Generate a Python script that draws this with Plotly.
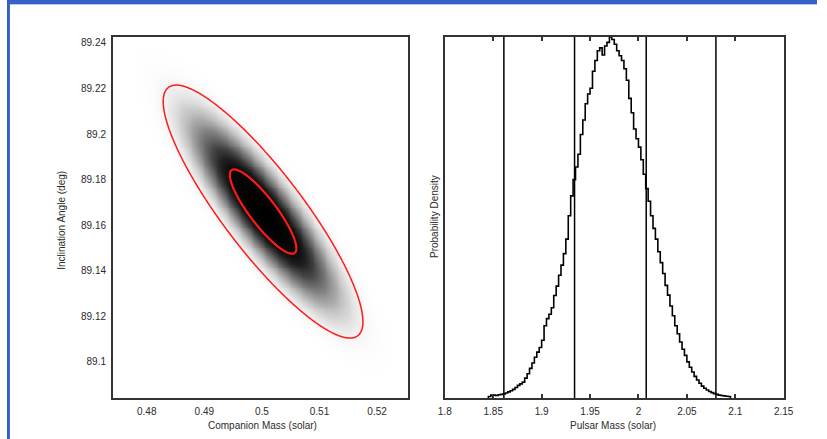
import numpy as np
import plotly.graph_objects as go

# ---- Joint posterior: companion mass vs. inclination ----
comp_mass_mean = 0.5002        # solar masses
incl_mean = 89.166             # degrees
comp_mass_sigma = 0.00578
incl_sigma = 0.0185
mass_incl_corr = -0.87
contour_sigmas = [1.0, 3.0]    # drawn confidence ellipses (in sigma)

comp_tick_vals = [0.48, 0.49, 0.50, 0.51, 0.52]
comp_tick_text = ["0.48", "0.49", "0.5", "0.51", "0.52"]
incl_tick_vals = [89.10, 89.12, 89.14, 89.16, 89.18, 89.20, 89.22, 89.24]
incl_tick_text = ["89.1", "89.12", "89.14", "89.16", "89.18", "89.2", "89.22", "89.24"]

# ---- Pulsar mass posterior histogram ----
hist_start = 1.845
hist_width = 0.0025
pulsar_density = [
    0.04, 0.08, 0.08, 0.07, 0.09, 0.10, 0.11, 0.14, 0.17, 0.20,
    0.24, 0.29, 0.35, 0.39, 0.44, 0.55, 0.67, 0.82, 0.97, 1.13,
    1.27, 1.40, 1.60, 2.00, 2.20, 2.32, 2.50, 2.84, 3.10, 3.40,
    3.68, 4.00, 4.40, 5.05, 5.60, 6.05, 6.40, 6.75, 7.30, 7.70,
    8.15, 8.42, 8.58, 9.05, 9.35, 9.62, 9.70, 9.50, 9.75, 9.85,
    10.00, 9.93, 9.80, 9.62, 9.48, 9.35, 9.12, 8.80, 8.30, 7.90,
    7.45, 7.18, 6.95, 6.60, 6.20, 5.80, 5.45, 5.05, 4.70, 4.40,
    4.05, 3.75, 3.45, 3.12, 2.85, 2.55, 2.28, 2.00, 1.78, 1.55,
    1.35, 1.18, 1.00, 0.85, 0.72, 0.60, 0.50, 0.41, 0.33, 0.27,
    0.22, 0.18, 0.15, 0.12, 0.10, 0.08, 0.07, 0.06, 0.05, 0.04,
]
interval_bounds = [1.861, 1.934, 2.008, 2.080]   # 95% and 68% limits

pulsar_tick_vals = [1.80, 1.85, 1.90, 1.95, 2.00, 2.05, 2.10, 2.15]
pulsar_tick_text = ["1.8", "1.85", "1.9", "1.95", "2", "2.05", "2.1", "2.15"]

W, H = 827, 439
FONT = "Liberation Sans, Arial, sans-serif"
TXT = "#2b2b2b"
FRAME = "#333333"

# density grid for the joint posterior
x_range = [0.4741, 0.5253]
y_range = [89.0842, 89.2426]
gx = np.linspace(x_range[0], x_range[1], 320)
gy = np.linspace(y_range[0], y_range[1], 380)
X, Y = np.meshgrid(gx, gy)
u = (X - comp_mass_mean) / comp_mass_sigma
v = (Y - incl_mean) / incl_sigma
q = (u * u - 2 * mass_incl_corr * u * v + v * v) / (1 - mass_incl_corr ** 2)
density = np.exp(-0.5 * q)

grey_scale = [
    [0.0, "rgb(255,255,255)"],
    [0.006, "rgb(250,250,250)"],
    [0.015, "rgb(238,238,238)"],
    [0.04, "rgb(212,212,212)"],
    [0.09, "rgb(172,172,172)"],
    [0.16, "rgb(130,130,130)"],
    [0.30, "rgb(72,72,72)"],
    [0.45, "rgb(32,32,32)"],
    [0.60, "rgb(10,10,10)"],
    [1.0, "rgb(0,0,0)"],
]

fig = go.Figure()
fig.add_trace(go.Heatmap(
    x=gx, y=gy, z=density, colorscale=grey_scale, zmin=0, zmax=1,
    zsmooth="best", showscale=False, hoverinfo="skip",
    xaxis="x", yaxis="y",
))
for k, lw in zip(contour_sigmas, [2.2, 1.5]):
    level = float(np.exp(-0.5 * k * k))
    fig.add_trace(go.Contour(
        x=gx, y=gy, z=density, showscale=False, hoverinfo="skip",
        contours=dict(coloring="none", start=level, end=level, size=1),
        line=dict(color="#ff1a1a", width=lw),
        xaxis="x", yaxis="y",
    ))

# step histogram of the pulsar mass
edges = [hist_start + hist_width * i for i in range(len(pulsar_density) + 1)]
step_x = [edges[0]] + edges[:-1] + [edges[-1]]
step_y = [0.0] + pulsar_density + [0.0]
fig.add_trace(go.Scatter(
    x=step_x, y=step_y, mode="lines", line=dict(color="black", width=1.6, shape="hv"),
    hoverinfo="skip", xaxis="x2", yaxis="y2", showlegend=False,
))

shapes = []
for b in interval_bounds:
    shapes.append(dict(type="line", xref="x2", yref="y2 domain", x0=b, x1=b, y0=0, y1=1,
                       line=dict(color="black", width=1.5)))
# blue page border along the top and left edge
shapes.append(dict(type="rect", xref="paper", yref="paper", x0=0, x1=1, y0=1 - 4 / H, y1=1,
                   fillcolor="#3760c8", line_width=0, layer="above"))
shapes.append(dict(type="rect", xref="paper", yref="paper", x0=0, x1=1, y0=1 - 5 / H, y1=1 - 4 / H,
                   fillcolor="#b9c7ea", line_width=0, layer="above"))
shapes.append(dict(type="rect", xref="paper", yref="paper", x0=0, x1=3 / W, y0=0, y1=1,
                   fillcolor="#3760c8", line_width=0, layer="above"))

y_dom = [1 - 398 / H, 1 - 37 / H]
axis_common = dict(showline=True, linecolor=FRAME, linewidth=1.5, showgrid=False, zeroline=False,
                   tickfont=dict(family=FONT, size=10, color=TXT))

fig.update_layout(
    width=W, height=H, margin=dict(l=0, r=0, t=0, b=0),
    paper_bgcolor="white", plot_bgcolor="white", showlegend=False,
    xaxis=dict(domain=[108 / W, 409 / W], range=x_range, tickvals=comp_tick_vals,
               ticktext=comp_tick_text, ticks="", mirror=True, anchor="y",
               ticklabelstandoff=3, **axis_common),
    yaxis=dict(domain=y_dom, range=y_range, tickvals=incl_tick_vals, ticktext=incl_tick_text,
               ticks="", mirror=True, anchor="x", ticklabelstandoff=3, **axis_common),
    xaxis2=dict(domain=[447 / W, 793 / W], range=[1.8, 2.15], tickvals=pulsar_tick_vals,
                ticktext=pulsar_tick_text, ticks="inside", ticklen=4, tickwidth=1.5,
                tickcolor=FRAME, mirror="ticks", anchor="y2", ticklabelstandoff=3, **axis_common),
    yaxis2=dict(domain=y_dom, range=[0, max(pulsar_density)], showticklabels=False, ticks="",
                mirror=True, anchor="x2", **axis_common),
    shapes=shapes,
    annotations=[
        dict(text="Companion Mass (solar)", x=261 / W, y=1 - 425 / H, xref="paper", yref="paper",
             showarrow=False, xanchor="center", yanchor="middle",
             font=dict(family=FONT, size=10, color=TXT)),
        dict(text="Pulsar Mass (solar)", x=619 / W, y=1 - 425 / H, xref="paper", yref="paper",
             showarrow=False, xanchor="center", yanchor="middle",
             font=dict(family=FONT, size=10, color=TXT)),
        dict(text="Inclination Angle (deg)", x=55 / W, y=1 - 220 / H, xref="paper", yref="paper",
             showarrow=False, xanchor="center", yanchor="middle", textangle=-90,
             font=dict(family=FONT, size=10, color=TXT)),
        dict(text="Probability Density", x=436 / W, y=1 - 217 / H, xref="paper", yref="paper",
             showarrow=False, xanchor="center", yanchor="middle", textangle=-90,
             font=dict(family=FONT, size=10, color=TXT)),
    ],
)

fig.write_html("out.html")
